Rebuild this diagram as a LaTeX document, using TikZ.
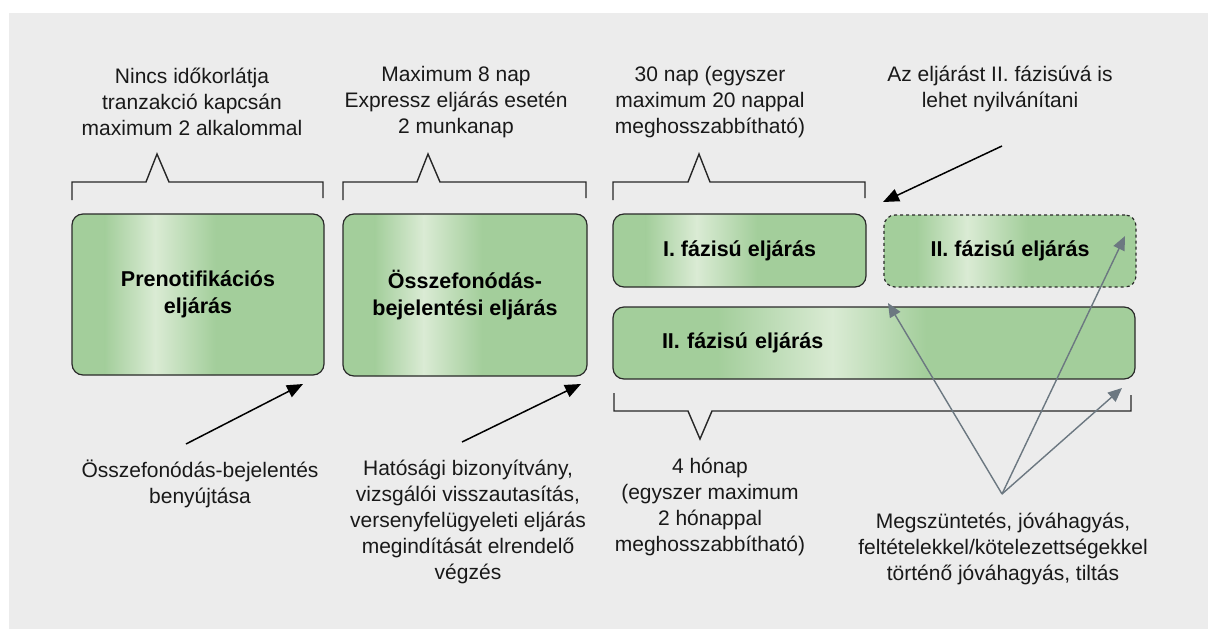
\documentclass[tikz,border=0pt]{standalone}
\usepackage{fontspec}
\setmainfont{Liberation Sans}
\usetikzlibrary{arrows.meta,calc}
\definecolor{panel}{HTML}{ECECEC}
\definecolor{bg}{HTML}{A3CE9B}
\definecolor{bl}{HTML}{DAEBD4}
\definecolor{boxline}{HTML}{2A2A2A}
\definecolor{garrow}{HTML}{6C7881}
\def\gA{0.13}\def\gB{0.33}\def\gC{0.57}
\tikzset{
  grad/.code args={#1/#2/#3}{\def\gA{#1}\def\gB{#2}\def\gC{#3}},
  gbox/.style={draw=boxline, line width=1.2pt, rounded corners=11pt, inner sep=0pt, fill=bg,
    font=\bfseries\fontsize{21.5}{27}\selectfont, align=center,
    path picture={
      \path (path picture bounding box.south west) coordinate (pA)
            (path picture bounding box.north east) coordinate (pB);
      \shade[sharp corners, left color=bg, right color=bl]
        ($(pA)!\gA!(pA-|pB)$) rectangle ($(pA|-pB)!\gB!(pB)$);
      \shade[sharp corners, left color=bl, right color=bg]
        ($(pA)!\gB!(pA-|pB)$) rectangle ($(pA|-pB)!\gC!(pB)$);
    }},
  lbl/.style={font=\fontsize{21}{26}\selectfont, align=center, inner sep=0pt, text=black!90},
  brk/.style={draw=black!85, line width=1.4pt},
  barrow/.style={draw=black, line width=1.5pt, -{Triangle[length=16pt,width=13pt]}},
  garr/.style={draw=garrow, line width=1.4pt, -{Triangle[length=14pt,width=12pt]}, fill=garrow}
}
\begin{document}
\begin{tikzpicture}[x=1pt,y=-1pt]
\useasboundingbox (0,0) rectangle (1208,629);
\fill[white] (0,0) rectangle (1208,629);
\fill[panel] (9,13) rectangle (1208,629);

% boxes
\node[gbox, minimum width=252pt, minimum height=161pt] (pre) at (198,294.5) {Prenotifikációs\\eljárás};
\node[gbox, minimum width=244pt, minimum height=162pt] (osz) at (465,295) {Összefonódás-\\bejelentési eljárás};
\node[gbox, minimum width=253pt, minimum height=73pt] (f1) at (739.5,250.5) {I. fázisú eljárás};
\node[gbox, grad=0.2/0.42/0.6, minimum width=522pt, minimum height=72pt, text width=424pt, inner xsep=49pt, align=left] (f2) at (874,343) {II. fázisú eljárás};
\node[gbox, dashed, minimum width=252pt, minimum height=72pt] (f2d) at (1010,251) {II. fázisú eljárás};

% top labels
\node[lbl] (t1) at (192,102) {Nincs időkorlátja\\tranzakció kapcsán\\maximum 2 alkalommal};
\node[lbl] (t2) at (456,102) {Maximum 8 nap\\Expressz eljárás esetén\\2 munkanap};
\node[lbl] (t3) at (710,102) {30 nap (egyszer\\maximum 20 nappal\\meghosszabbítható)};
\node[lbl] (t4) at (1000,89) {Az eljárást II. fázisúvá is\\lehet nyilvánítani};

% bottom labels
\node[lbl] (b1) at (200,483.5) {Összefonódás-bejelentés\\benyújtása};
\node[lbl] (b2) at (468,521.5) {Hatósági bizonyítvány,\\vizsgálói visszautasítás,\\versenyfelügyeleti eljárás\\megindítását elrendelő\\végzés};
\node[lbl] (b3) at (710,506.5) {4 hónap\\(egyszer maximum\\2 hónappal\\meghosszabbítható)};
\node[lbl] (b4) at (1003,549) {Megszüntetés, jóváhagyás,\\feltételekkel/kötelezettségekkel\\történő jóváhagyás, tiltás};

% brackets
\draw[brk] (72,200) -- (72,182) -- (146,182) -- (157,154) -- (169,182) -- (323,182) -- (323,198);
\draw[brk] (343,200) -- (343,182) -- (417,182) -- (428,154) -- (440,182) -- (586,182) -- (586,198);
\draw[brk] (613,200) -- (613,182) -- (688,182) -- (699,154) -- (710,182) -- (865,182) -- (865,198);
\draw[brk] (614,393) -- (614,411) -- (688,411) -- (700,439) -- (712,411) -- (1131,411) -- (1131,395);

% arrows
\coordinate (a1s) at (186,444);
\coordinate (a1e) at (303,384);
\coordinate (a2s) at (462,442);
\coordinate (a2e) at (581,384);
\coordinate (a3s) at (1002,146);
\coordinate (a3e) at (883,202);
\draw[barrow] (a1s) -- (a1e);
\draw[barrow] (a2s) -- (a2e);
\draw[barrow] (a3s) -- (a3e);

\coordinate (g0) at (1002,494);
\coordinate (g1) at (888,303);
\coordinate (g2) at (1125,236);
\coordinate (g3) at (1122,388);
\draw[garr] (g0) -- (g1);
\draw[garr] (g0) -- (g2);
\draw[garr] (g0) -- (g3);
\end{tikzpicture}
\end{document}
